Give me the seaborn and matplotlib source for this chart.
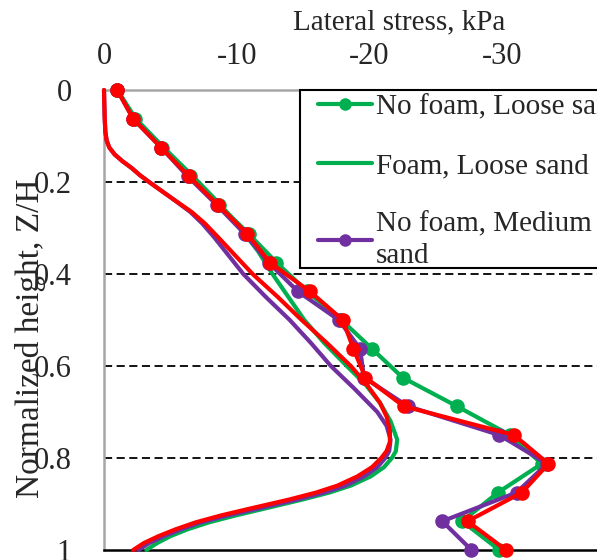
import matplotlib
matplotlib.use("Agg")
import matplotlib.pyplot as plt
import seaborn as sns
from matplotlib.lines import Line2D
from matplotlib.patches import Rectangle

sns.set_theme(style="white")
plt.rcParams["font.family"] = ["Liberation Serif", "DejaVu Serif"]
plt.rcParams["axes.unicode_minus"] = False

# Normalized height of the measurement points (no-foam tests)
z_points = [0, 0.0625, 0.125, 0.1875, 0.25, 0.3125, 0.375, 0.4375, 0.5,
            0.5625, 0.625, 0.6875, 0.75, 0.8125, 0.875, 0.9375, 1.0]

# Lateral stress (kPa) measured without foam
nofoam_loose = [-1.0, -2.3, -4.4, -6.5, -8.7, -10.9, -13.0, -15.3, -17.9,
                -20.2, -22.5, -26.6, -30.6, -33.0, -29.7, -27.0, -29.8]
nofoam_medium = [-1.0, -2.2, -4.3, -6.3, -8.5, -10.6, -12.4, -14.6, -17.7,
                 -19.3, -19.6, -22.9, -29.8, -33.4, -31.1, -25.5, -27.7]
nofoam_dense = [-1.0, -2.2, -4.3, -6.4, -8.6, -10.8, -12.5, -15.5, -18.0,
                -18.8, -19.7, -22.6, -30.9, -33.5, -31.5, -27.4, -30.3]

# Lateral stress (kPa) profiles with foam
z_foam_loose = [0.0, 0.0625, 0.125, 0.1875, 0.25, 0.3125, 0.35, 0.40, 0.45,
                0.50, 0.55, 0.60, 0.64, 0.68, 0.72, 0.76, 0.785, 0.80, 0.82,
                0.84, 0.86, 0.875, 0.89, 0.91, 0.925, 0.94, 0.955, 0.97,
                0.985, 1.0]
foam_loose = [-1.0, -2.4, -4.5, -6.7, -8.8, -10.6, -11.6, -12.7, -13.9,
              -15.1, -16.6, -18.3, -19.7, -20.8, -21.6, -22.1, -22.0, -21.7,
              -21.1, -20.1, -18.6, -17.0, -15.0, -12.1, -9.9, -7.9, -6.3,
              -5.0, -4.0, -3.2]

z_foam_medium = [0.0, 0.06, 0.09, 0.11, 0.125, 0.14, 0.155, 0.17, 0.185, 0.20,
                 0.235, 0.265, 0.29, 0.32, 0.36, 0.40, 0.45, 0.50, 0.55, 0.60,
                 0.65, 0.70, 0.73, 0.76, 0.785, 0.80, 0.82, 0.84, 0.86, 0.875,
                 0.89, 0.91, 0.925, 0.94, 0.955, 0.97, 0.985, 1.0]
foam_medium = [0.0, -0.05, -0.1, -0.2, -0.4, -0.8, -1.4, -2.1, -2.7, -3.4,
               -5.1, -6.5, -7.4, -8.3, -9.4, -10.5, -12.2, -14.0, -15.6, -17.1,
               -18.9, -20.6, -21.3, -21.6, -21.5, -21.2, -20.6, -19.6, -18.2,
               -16.6, -14.6, -11.6, -9.3, -7.3, -5.8, -4.5, -3.4, -2.6]

z_foam_dense = [0.0, 0.06, 0.09, 0.11, 0.125, 0.14, 0.155, 0.17, 0.185, 0.20,
                0.235, 0.265, 0.29, 0.32, 0.36, 0.40, 0.45, 0.50, 0.55, 0.60,
                0.64, 0.68, 0.71, 0.74, 0.765, 0.785, 0.80, 0.82, 0.84, 0.86,
                0.875, 0.89, 0.91, 0.925, 0.94, 0.955, 0.97, 0.985, 1.0]
foam_dense = [0.0, -0.05, -0.1, -0.2, -0.4, -0.8, -1.4, -2.1, -2.7, -3.4,
              -5.1, -6.6, -7.6, -8.6, -9.9, -11.2, -13.1, -14.9, -16.8, -18.6,
              -19.8, -20.8, -21.3, -21.55, -21.55, -21.3, -20.9, -20.2, -19.1,
              -17.6, -16.0, -14.0, -11.0, -8.8, -6.9, -5.4, -4.1, -3.0, -2.2]

x_ticks = [0, -10, -20, -30, -40]
x_tick_labels = ["0", "-10", "-20", "-30", "-40"]
y_ticks = [0, 0.2, 0.4, 0.6, 0.8, 1.0]
y_tick_labels = ["0", "0.2", "0.4", "0.6", "0.8", "1"]

GREEN = "#00B050"
PURPLE = "#7030A0"
RED = "#FF0000"
LW = 3.0
MS = 10.5

W, H = 597, 560
fig = plt.figure(figsize=(W / 100, H / 100), dpi=100)
ax = fig.add_axes([104 / W, 10 / H, 597 / W, 460 / H])

for yv in [0.2, 0.4, 0.6, 0.8]:
    ax.axhline(yv, color="black", lw=1.3, ls=(0, (4.5, 2.5)), zorder=0.5)

series = [
    (nofoam_loose, z_points, GREEN, True),
    (foam_loose, z_foam_loose, GREEN, False),
    (nofoam_medium, z_points, PURPLE, True),
    (foam_medium, z_foam_medium, PURPLE, False),
    (nofoam_dense, z_points, RED, True),
    (foam_dense, z_foam_dense, RED, False),
]
for xs, zs, col, with_marker in series:
    kw = dict(marker="o", markersize=MS, markeredgewidth=0) if with_marker else {}
    sns.lineplot(x=xs, y=zs, sort=False, estimator=None, color=col, lw=LW,
                 ax=ax, legend=False, clip_on=False, zorder=3,
                 solid_joinstyle="round", **kw)

ax.set_xlim(0, -45)
ax.set_ylim(1, 0)
ax.xaxis.tick_top()
ax.xaxis.set_label_position("top")
ax.set_xticks(x_ticks)
ax.set_xticklabels(x_tick_labels, fontsize=22)
ax.set_yticks(y_ticks)
ax.set_yticklabels(y_tick_labels, fontsize=22)
ax.tick_params(axis="x", length=0, pad=13.5)
ax.tick_params(axis="y", length=0, pad=23)

ax.set_xlabel("Lateral stress, kPa", fontsize=21)
ax.xaxis.label.set_va("center")
ax.xaxis.set_label_coords((399 - 104) / W, (H - 22 - 10) / 460)
ax.set_ylabel("Normalized height, Z/H", fontsize=24)
ax.yaxis.label.set_va("center")
ax.yaxis.set_label_coords((31 - 104) / W, (H - 338 - 10) / 460)

for side in ["top", "left"]:
    ax.spines[side].set_color("#A6A6A6")
    ax.spines[side].set_linewidth(1.8)
ax.spines["bottom"].set_color("black")
ax.spines["bottom"].set_linewidth(1.8)
ax.spines["right"].set_visible(False)

# legend frame (runs past the right edge of the figure)
frame = Rectangle((300 / W, (H - 268) / H), 400 / W, 178 / H,
                  transform=fig.transFigure, facecolor="white",
                  edgecolor="black", lw=1.5, clip_on=False, zorder=4)
ax.add_patch(frame)

handles = [
    Line2D([], [], color=GREEN, lw=LW, marker="o", markersize=9, markeredgewidth=0),
    Line2D([], [], color=GREEN, lw=LW),
    Line2D([], [], color=PURPLE, lw=LW, marker="o", markersize=9, markeredgewidth=0),
]
labels = ["No foam, Loose sand", "Foam, Loose sand", "No foam, Medium\nsand"]
leg = ax.legend(handles, labels, loc="upper left",
                bbox_to_anchor=(318 / W, (H - 94) / H), bbox_transform=fig.transFigure,
                frameon=False, fontsize=21, borderpad=0, labelspacing=1.1,
                handlelength=1.85, handletextpad=0.14, borderaxespad=0)
for t in leg.get_texts():
    t.set_linespacing(1.3)
leg.set_zorder(5)

fig.savefig("out.png", dpi=100)
